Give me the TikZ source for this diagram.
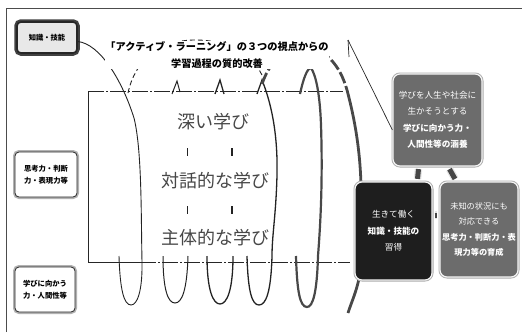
\documentclass[tikz,border=0pt]{standalone}
\usepackage{fontspec}
\newfontfamily\jp{Noto Sans CJK JP}
\definecolor{boxgray}{RGB}{108,108,108}
\definecolor{boxdark}{RGB}{30,30,30}
\definecolor{coil}{RGB}{35,35,35}
\definecolor{coilthick}{RGB}{72,72,72}
\begin{document}
\begin{tikzpicture}[x=1pt,y=-1pt,
  font=\jp,
  lbox/.style={draw=black!85, line width=0.8pt, rounded corners=4pt, fill=white,
    preaction={draw=gray!60, line width=4pt}, align=center, inner sep=0pt,
    font=\jp\bfseries\fontsize{7.3}{11.5}\selectfont},
  rbox/.style={draw=white!92!gray, line width=1.2pt, rounded corners=7pt, align=center,
    text=white, inner sep=0pt, preaction={draw=gray!65, line width=3pt},
    font=\jp\fontsize{8.6}{16.5}\selectfont},
  big/.style={font=\jp\fontsize{18}{18}\selectfont, text=black!72, inner sep=0pt},
  bar/.style={line width=5pt, draw=gray!55!black, preaction={draw=gray!20, line width=7.5pt}},
  edge/.style={line width=0.9pt, draw=black!85},
  dashdot/.style={line width=0.9pt, draw=black!85, dash pattern=on 16pt off 2pt on 2pt off 2pt},
  hidden/.style={dash pattern=on 5pt off 3pt},
]
\useasboundingbox (0,0) rectangle (522,332);
% frame
\draw[line width=0.9pt, black!70] (6,332) -- (6,8) -- (522,8);

% box (core of the spiral)
\coordinate (btl) at (88,91);
\coordinate (bbl) at (88,262);
\coordinate (btr) at (343,91);
\coordinate (bbr) at (350,262);
\draw[edge] (btl) -- (bbl) -- (140,262);
\draw[dashdot] (btl) -- (btr);
\draw[dashdot] (140,262) -- (bbr);

% left boxes
\node[lbox, minimum width=60pt, minimum height=31pt, fill=gray!18, line width=1.6pt,
  preaction={draw=gray!50!black, line width=5.5pt}] (zg) at (47,37.5) {知識・技能};
\node[lbox, minimum width=62pt, minimum height=45pt] (sk) at (46,174.5) {思考力・判断\\力・表現力等};
\node[lbox, minimum width=60pt, minimum height=45pt] (mk) at (45,289.5) {学びに向かう\\力・人間性等};

% coil 1 (from 知識・技能)
\draw[line width=0.9pt, coil] ([yshift=-4pt]zg.east) .. controls (100,44) and (122,80) .. (134,118)
  .. controls (142,150) and (141,215) .. (142,262)
  .. controls (142.5,292) and (137,305) .. (131,305)
  .. controls (124,305) and (120,290) .. (119,256);
% big thin dashed arc over the title
\draw[line width=0.9pt, coil, hidden] (128,93) .. controls (135,60) and (160,40) .. (195,40)
  .. controls (230,40) and (255,55) .. (264,80);

% coil 2
\draw[line width=1pt, coil] (172,94) -- (177,81) -- (180,92);
\draw[line width=0.9pt, coil] (187,148) -- (187,156) (187,206) -- (187,214);
\draw[line width=1pt, coil] (163,256) .. controls (163,290) and (168,303) .. (175,303)
  .. controls (182,303) and (187,290) .. (188,256);
% coil 3
\draw[line width=1.3pt, coil] (215,94) -- (220,80) -- (224,94);
\draw[line width=1.1pt, coil] (232,148) -- (232,156) (232,206) -- (232,214);
\draw[line width=1.3pt, coil] (207,256) .. controls (207,290) and (213,304) .. (220,304)
  .. controls (227,304) and (233,290) .. (233,256);
% coil 4
\draw[line width=1.3pt, coil] (257,94) -- (262,80)
  .. controls (270,100) and (278,130) .. (277,175)
  .. controls (276,215) and (272,235) .. (272,256)
  .. controls (271,292) and (266,305) .. (259,305)
  .. controls (252,305) and (248,292) .. (247,256);
% coil 5
\draw[line width=2.2pt, coilthick] (300,94) .. controls (303,80) and (307,68) .. (311,68)
  .. controls (316,75) and (320,95) .. (321,125)
  .. controls (323,185) and (320,230) .. (318,256)
  .. controls (317,292) and (313,307) .. (307,307)
  .. controls (300,307) and (297,292) .. (296,256);
% coil 6 (thickest), ends behind the dark box
\draw[line width=2.8pt, coilthick, dash pattern=on 12pt off 3pt] (262,84)
  .. controls (272,55) and (290,48) .. (305,48)
  .. controls (325,48) and (340,65) .. (347,90);
\draw[line width=2.8pt, coilthick] (347,90)
  .. controls (355,120) and (360,150) .. (361,185) -- (361,262)
  .. controls (360,285) and (352,300) .. (348,313);

% callout line
\coordinate (cl) at (348,40);

% title
\node[fill=white, inner sep=0.6pt, align=center,
  font=\jp\bfseries\fontsize{10.2}{17}\selectfont] (title) at (217,55)
  {「アクティブ・ラーニング」の３つの視点からの\\学習過程の質的改善};

% three perspectives
\node[big] (t1) at (213,122) {深い学び};
\node[big] (t2) at (215,181) {対話的な学び};
\node[big] (t3) at (215,238) {主体的な学び};

\coordinate (tbc) at (437.5,120);
\coordinate (dbc) at (393.5,231);
\coordinate (rbc) at (479,229.5);

% right boxes
\node[rbox, fill=boxgray, minimum width=89pt, minimum height=92pt] (tb) at (tbc)
  {学びを人生や社会に\\生かそうとする\\\textbf{学びに向かう力・}\\\textbf{人間性等の涵養}};
\node[rbox, fill=boxdark, minimum width=77pt, minimum height=98pt] (db) at (dbc)
  {生きて働く\\\textbf{知識・技能の}\\習得};
\node[rbox, fill=boxgray, minimum width=78pt, minimum height=95pt,
  font=\jp\fontsize{8.2}{15.3}\selectfont] (rb) at (rbc)
  {未知の状況にも\\対応できる\\\textbf{思考力・判断力・表}\\\textbf{現力等の育成}};

\draw[line width=0.7pt, black!85] (cl) -- ([yshift=-10pt]tb.west);
\draw[line width=0.7pt, black!85] (cl) -- ++(1,17);

% connectors between the right boxes
\draw[bar] ([xshift=-19pt,yshift=-2.5pt]tb.south) -- ([xshift=24pt,yshift=2.5pt]db.north);
\draw[bar] ([xshift=12pt,yshift=-2.5pt]tb.south) -- ([xshift=-24pt,yshift=2.5pt]rb.north);
\draw[bar] ([xshift=2pt,yshift=16pt]db.east) -- ([xshift=-2pt,yshift=16pt]db.east -| rb.west);
\end{tikzpicture}
\end{document}
